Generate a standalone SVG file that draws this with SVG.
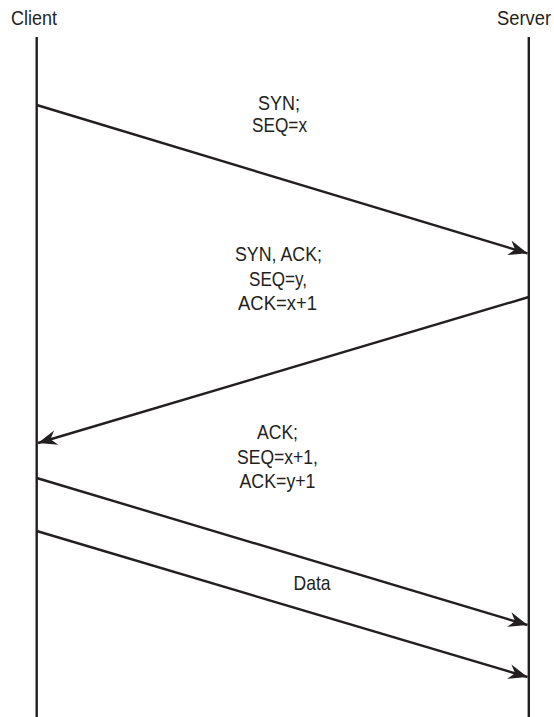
<svg xmlns="http://www.w3.org/2000/svg" width="554" height="717" viewBox="0 0 554 717">
<style>
text{font-family:"Liberation Sans Narrow","Liberation Sans",Arial,sans-serif;font-size:21px;fill:#231f20}
.c{text-anchor:middle}
.life{stroke:#231f20;stroke-width:2.4;fill:none}
.msg{stroke:#231f20;stroke-width:2.4;fill:none;marker-end:url(#ah)}
</style>
<defs>
<marker id="ah" markerUnits="userSpaceOnUse" markerWidth="24" markerHeight="20" viewBox="-20 -10 22 20" refX="0" refY="0" orient="auto">
<path d="M0,0 L-19,-7.5 L-13,0 L-19,7.5 Z" fill="#231f20"/>
</marker>
</defs>
<g id="client">
<text x="11" y="25" textLength="46" lengthAdjust="spacingAndGlyphs">Client</text>
<line class="life" x1="36.7" y1="37" x2="36.7" y2="717"/>
</g>
<g id="server">
<text x="497" y="25" textLength="54" lengthAdjust="spacingAndGlyphs">Server</text>
<line class="life" x1="528.8" y1="37" x2="528.8" y2="717"/>
</g>
<g id="connectors">
<line class="msg" x1="36.7" y1="105" x2="527.5" y2="253.3"/>
<line class="msg" x1="528.8" y1="297" x2="38" y2="443"/>
<line class="msg" x1="36.7" y1="478" x2="527.5" y2="625"/>
<line class="msg" x1="36.7" y1="531" x2="527.5" y2="677"/>
</g>
<g id="labels">
<text class="c" x="279" y="109.5" textLength="42" lengthAdjust="spacingAndGlyphs">SYN;</text>
<text class="c" x="279.5" y="132" textLength="55" lengthAdjust="spacingAndGlyphs">SEQ=x</text>
<text class="c" x="278.5" y="261" textLength="87" lengthAdjust="spacingAndGlyphs">SYN, ACK;</text>
<text class="c" x="278" y="285.5" textLength="58" lengthAdjust="spacingAndGlyphs">SEQ=y,</text>
<text class="c" x="277.5" y="310" textLength="79" lengthAdjust="spacingAndGlyphs">ACK=x+1</text>
<text class="c" x="277.5" y="439" textLength="41" lengthAdjust="spacingAndGlyphs">ACK;</text>
<text class="c" x="277.5" y="463.5" textLength="81" lengthAdjust="spacingAndGlyphs">SEQ=x+1,</text>
<text class="c" x="277.5" y="488" textLength="76" lengthAdjust="spacingAndGlyphs">ACK=y+1</text>
<text class="c" x="312" y="590" textLength="37" lengthAdjust="spacingAndGlyphs">Data</text>
</g>
</svg>
